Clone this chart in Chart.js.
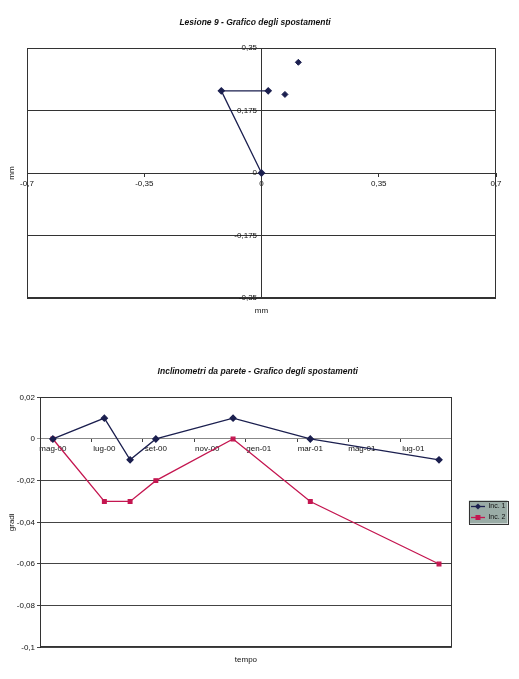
<!DOCTYPE html>
<html lang="it">
<head>
<meta charset="UTF-8" />
<title>Lesione 9 - Inclinometri</title>
<script src="https://cdn.jsdelivr.net/npm/chart.js@4.4.0/dist/chart.umd.min.js"></script>
<style>
  body { margin: 0; background: #fff; }
  canvas { position: absolute; left: 0; }
  #lesione { top: 0; }
  #inclinometri { top: 345px; }
</style>
</head>
<body>
<canvas id="lesione" width="519" height="335"></canvas>
<canvas id="inclinometri" width="519" height="334"></canvas>
<script>
// Lesione 9 - spostamenti in mm
const pathX = [0, -0.12, 0.02];
const pathY = [0, 0.23, 0.23];
const looseX = [0.07, 0.11];
const looseY = [0.22, 0.31];
const lesioneXTicks = [-0.7, -0.35, 0, 0.35, 0.7];
const lesioneYTicks = [-0.35, -0.175, 0, 0.175, 0.35];

// inclinometri da parete, una lettura al mese (null = nessuna lettura)
const months = ['mag-00', 'giu-00', 'lug-00', 'ago-00', 'set-00', 'ott-00', 'nov-00', 'dic-00',
                'gen-01', 'feb-01', 'mar-01', 'apr-01', 'mag-01', 'giu-01', 'lug-01', 'ago-01'];
const inc1 = [0, null, 0.01, -0.01, 0, null, null, 0.01, null, null, 0, null, null, null, null, -0.01];
const inc2 = [0, null, -0.03, -0.03, -0.02, null, null, 0, null, null, -0.03, null, null, null, null, -0.06];
const gradiTicks = [-0.1, -0.08, -0.06, -0.04, -0.02, 0, 0.02];

const NAVY = '#1b1f4f';
const RED = '#c41650';

Chart.defaults.font.family = '"Liberation Sans", Arial, sans-serif';
Chart.defaults.font.size = 8;
Chart.defaults.color = '#111';

const comma = v => String(v).replace('.', ',');
const useTicks = list => scale => { scale.ticks = list.map(v => ({ value: v })); };

// empty axis, only used to hold an axis title or to reserve some room
function spacer(axis, pos, size, title, pad) {
  return {
    type: 'linear', axis: axis, position: pos,
    afterFit: s => { if (axis === 'y') s.width = size; else s.height = size; },
    grid: { display: false, drawTicks: false },
    border: { display: false },
    ticks: { display: false },
    title: { display: !!title, text: title || '', padding: pad || 0, font: { size: 8 } }
  };
}

// box round the plot area, like Excel
const frame = {
  id: 'frame',
  beforeDatasetsDraw(chart) {
    const a = chart.chartArea, c = chart.ctx;
    c.save();
    c.strokeStyle = '#333';
    c.lineWidth = 1;
    c.strokeRect(Math.round(a.left) + 0.5, Math.round(a.top) + 0.5, Math.round(a.width) - 1, Math.round(a.height) - 1);
    c.restore();
  }
};

// grey-green legend box
const legendBox = {
  id: 'legendBox',
  beforeDraw(chart) {
    const hb = chart.legend && chart.legend.legendHitBoxes;
    if (!hb || !hb.length) return;
    const l = Math.min(...hb.map(b => b.left)) - 2;
    const r = Math.max(...hb.map(b => b.left + b.width)) + 2;
    const t = Math.min(...hb.map(b => b.top)) - 2.5;
    const btm = Math.max(...hb.map(b => b.top + b.height)) + 2.5;
    const c = chart.ctx;
    c.save();
    c.fillStyle = '#9aaca6';
    c.fillRect(l, t, r - l, btm - t);
    c.strokeStyle = '#333';
    c.strokeRect(Math.round(l) + 0.5, Math.round(t) + 0.5, Math.round(r - l), Math.round(btm - t));
    c.restore();
  }
};

function legendIcon(color, shape) {
  const cv = document.createElement('canvas');
  cv.width = 14; cv.height = 7;
  const g = cv.getContext('2d');
  g.strokeStyle = color; g.lineWidth = 1.3;
  g.beginPath(); g.moveTo(0, 3.5); g.lineTo(14, 3.5); g.stroke();
  g.fillStyle = color;
  g.beginPath();
  if (shape === 'diamond') {
    g.moveTo(7, 0.5); g.lineTo(10, 3.5); g.lineTo(7, 6.5); g.lineTo(4, 3.5);
  } else {
    g.rect(4.5, 1, 5, 5);
  }
  g.fill();
  return cv;
}
const icons = [legendIcon(NAVY, 'diamond'), legendIcon(RED, 'square')];

const titleFont = { size: 8.5, style: 'italic', weight: 'bold' };

new Chart(document.getElementById('lesione'), {
  type: 'scatter',
  data: {
    datasets: [
      {
        data: pathX.map((x, i) => ({ x: x, y: pathY[i] })),
        showLine: true,
        borderColor: NAVY, backgroundColor: NAVY, borderWidth: 1.3,
        pointStyle: 'rectRot', pointRadius: 3
      },
      {
        data: looseX.map((x, i) => ({ x: x, y: looseY[i] })),
        showLine: false,
        borderColor: NAVY, backgroundColor: NAVY,
        pointStyle: 'rectRot', pointRadius: 3
      }
    ]
  },
  options: {
    responsive: false,
    animation: false,
    layout: { padding: { left: 0, right: 9, top: 0, bottom: 0 } },
    plugins: {
      legend: { display: false },
      tooltip: { enabled: false },
      title: { display: true, text: 'Lesione 9 - Grafico degli spostamenti', font: titleFont, padding: { top: 17.9, bottom: 19.9 } }
    },
    scales: {
      x: {
        type: 'linear', position: { y: 0 }, min: -0.7, max: 0.7,
        afterBuildTicks: useTicks(lesioneXTicks),
        grid: { drawOnChartArea: false, tickLength: 3, color: '#333' },
        border: { color: '#333' },
        ticks: { padding: 3, maxRotation: 0, autoSkip: false, callback: v => comma(v) }
      },
      y: {
        type: 'linear', position: { x: 0 }, min: -0.35, max: 0.35,
        afterBuildTicks: useTicks(lesioneYTicks),
        grid: { color: '#333', tickLength: 3 },
        border: { color: '#333' },
        ticks: { autoSkip: false, callback: v => comma(v) + '  ' }
      },
      x2: spacer('x', 'bottom', 37, 'mm', { top: 0, bottom: 19.2 }),
      y2: spacer('y', 'left', 27, 'mm', { top: 7.2, bottom: 0 }),
      yr: spacer('y', 'right', 14)
    }
  },
  plugins: [frame]
});

new Chart(document.getElementById('inclinometri'), {
  type: 'line',
  data: {
    labels: months,
    datasets: [
      {
        label: 'Inc. 1', data: inc1, spanGaps: true,
        borderColor: NAVY, backgroundColor: NAVY, borderWidth: 1.3,
        pointStyle: 'rectRot', pointRadius: 3
      },
      {
        label: 'Inc. 2', data: inc2, spanGaps: true,
        borderColor: RED, backgroundColor: RED, borderWidth: 1.3,
        pointStyle: 'rect', pointRadius: 2.6
      }
    ]
  },
  options: {
    responsive: false,
    animation: false,
    layout: { padding: { left: 0, right: 3.5, top: 0, bottom: 0 } },
    plugins: {
      tooltip: { enabled: false },
      title: { display: true, text: 'Inclinometri da parete - Grafico degli spostamenti', font: titleFont, padding: { top: 21.9, bottom: 20.2 } },
      legend: {
        position: 'right',
        labels: {
          usePointStyle: true, pointStyleWidth: 14, boxHeight: 7, padding: 4,
          font: { size: 7 }, color: '#111',
          generateLabels(chart) {
            const items = Chart.defaults.plugins.legend.labels.generateLabels(chart);
            items.forEach(it => { it.pointStyle = icons[it.datasetIndex]; });
            return items;
          }
        }
      }
    },
    scales: {
      x: {
        type: 'category', position: { y: 0 }, offset: true,
        grid: {
          offset: true, drawOnChartArea: false, tickLength: 3,
          color: ctx => ctx.index % 2 === 0 ? '#444' : 'rgba(0,0,0,0)'
        },
        border: { color: '#888' },
        ticks: { autoSkip: false, maxRotation: 0, padding: 2, callback: (v, i) => i % 2 === 0 ? months[i] : '' }
      },
      y: {
        type: 'linear', position: 'left', min: -0.1, max: 0.02,
        afterBuildTicks: useTicks(gradiTicks),
        afterFit: s => { s.width = 40; },
        grid: { tickLength: 3, color: ctx => (ctx.tick && ctx.tick.value === 0) ? '#999' : '#444' },
        border: { color: '#222' },
        ticks: { padding: 2, autoSkip: false, callback: v => comma(v) },
        title: { display: true, text: 'gradi', padding: { top: 7.2, bottom: 0 }, font: { size: 8 } }
      },
      x2: spacer('x', 'bottom', 31.7, 'tempo', { top: 0, bottom: 14.2 }),
      yr: spacer('y', 'right', 15)
    }
  },
  plugins: [frame, legendBox]
});
</script>
</body>
</html>
